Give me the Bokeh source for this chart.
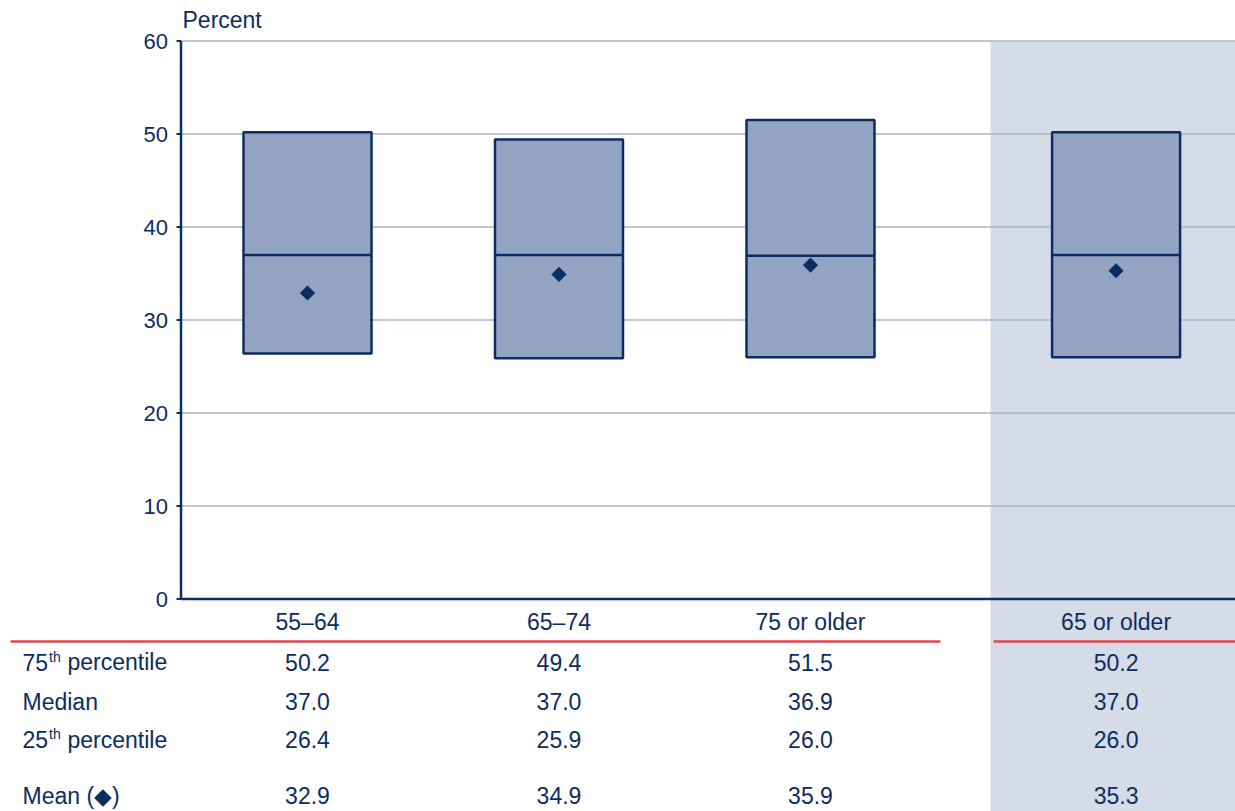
import math
from bokeh.plotting import figure
from bokeh.models import Range1d
from bokeh.embed import file_html
from bokeh.resources import INLINE
from bokeh.core.properties import value

# ---------------- data ----------------
categories = ["55\u201364", "65\u201374", "75 or older", "65 or older"]
p75 = [50.2, 49.4, 51.5, 50.2]
median = [37.0, 37.0, 36.9, 37.0]
p25 = [26.4, 25.9, 26.0, 26.0]
mean = [32.9, 34.9, 35.9, 35.3]
y_ticks = [0, 10, 20, 30, 40, 50, 60]
y_title = "Percent"

# ---------------- style / layout ----------------
FONT = "Liberation Sans"
NAVY = "#0c2d62"
BOX_FILL = "#93a4c2"
SHADE = "#d5dbe7"
GRID = "#a8b5cd"
RED = "#e4464e"

OFF = 0              # page offset of the canvas
W, H = 1235, 811
X_C0 = 307.0         # page x of first category centre
PXU = 251.5          # px per category unit
Y_0 = 598.5          # page y of value 0
PXY = 9.3            # px per percent
GAP = 0.215          # extra gap before the summary group
pos = [i + (GAP if i == 3 else 0) for i in range(len(categories))]
HW = 0.2545


def ux(page_x):
    return (page_x - X_C0) / PXU


def vy(page_y):
    return (Y_0 - page_y) / PXY


x_start, x_end = ux(OFF), ux(OFF + W)
y_end, y_start = vy(OFF), vy(OFF + H)
AX = ux(180.5)          # y-axis position
shade_left = ux(990)

p = figure(width=W, height=H, x_range=Range1d(x_start, x_end),
           y_range=Range1d(y_start, y_end), output_backend="svg",
           toolbar_location=None, x_axis_location=None, y_axis_location=None,
           min_border=0)
p.min_border_left = p.min_border_right = p.min_border_top = p.min_border_bottom = 0
p.outline_line_color = None
p.xgrid.visible = False
p.ygrid.visible = False
p.background_fill_color = "white"
p.border_fill_color = "white"

# shaded summary column
p.quad(left=[shade_left], right=[x_end + 1], bottom=[y_start - 5], top=[60],
       fill_color=SHADE, line_color=None)

# grid lines
p.segment(x0=[AX] * 6, x1=[x_end + 1] * 6, y0=y_ticks[1:], y1=y_ticks[1:],
          line_color=GRID, line_width=1.3)

# boxes
p.quad(left=[x - HW for x in pos], right=[x + HW for x in pos], top=p75, bottom=p25,
       fill_color=BOX_FILL, line_color=NAVY, line_width=2.5)
p.segment(x0=[x - HW for x in pos], x1=[x + HW for x in pos], y0=median, y1=median,
          line_color=NAVY, line_width=2.5)
p.scatter(pos, mean, marker="square", angle=math.pi / 4, size=10,
          fill_color=NAVY, line_color=NAVY)

# axes
p.segment(x0=[AX], x1=[x_end + 1], y0=[0], y1=[0], line_color=NAVY, line_width=2.5)
p.segment(x0=[AX], x1=[AX], y0=[0], y1=[60], line_color=NAVY, line_width=2.5)
p.segment(x0=[ux(176)] * 7, x1=[AX] * 7, y0=y_ticks, y1=y_ticks,
          line_color=NAVY, line_width=2)
p.text(x=[ux(167.5)] * 7, y=y_ticks, text=[str(t) for t in y_ticks], text_align="right",
       text_baseline="middle", text_font=value(FONT), text_font_size="22px",
       text_color=NAVY)
p.text(x=[ux(182)], y=[vy(19)], text=[y_title], text_align="left",
       text_baseline="middle", text_font=value(FONT), text_font_size="23px",
       text_color=NAVY)

# ---------------- table ----------------
FS = "23px"
p.text(x=pos, y=[vy(621.5)] * 4, text=categories, text_align="center",
       text_baseline="middle", text_font=value(FONT), text_font_size=FS,
       text_color=NAVY)
p.segment(x0=[ux(10), ux(993)], x1=[ux(940), ux(1240)], y0=[vy(641)] * 2,
          y1=[vy(641)] * 2, line_color=RED, line_width=2.5)

rows = [(p75, 661.5), (median, 701), (p25, 739), (mean, 795)]
for vals, mid in rows:
    p.text(x=pos, y=[vy(mid)] * 4, text=[f"{v:.1f}" for v in vals], text_align="center",
           text_baseline="middle", text_font=value(FONT), text_font_size=FS,
           text_color=NAVY)


def lab(page_x, mid, s, size=FS):
    p.text(x=[ux(page_x)], y=[vy(mid)], text=[s], text_align="left",
           text_baseline="middle", text_font=value(FONT), text_font_size=size,
           text_color=NAVY)


lab(22, 661.5, "75")
lab(48.5, 656, "th", "14px")
lab(67, 661.5, "percentile")
lab(22, 701, "Median")
lab(22, 739, "25")
lab(48.5, 733.5, "th", "14px")
lab(67, 739, "percentile")
lab(22, 795, "Mean (\u25c6)")

open("out.html", "w").write(file_html(p, INLINE))
